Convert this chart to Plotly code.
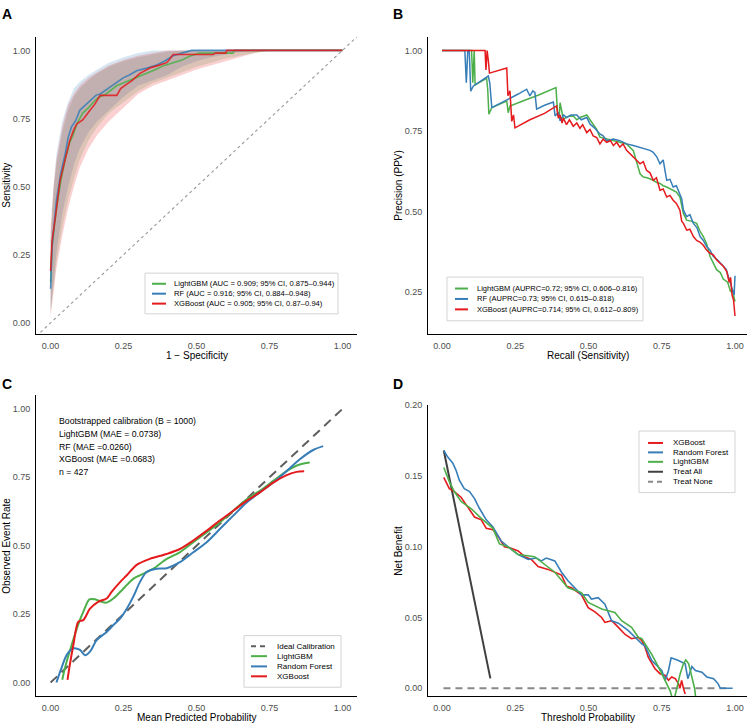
import plotly.graph_objects as go

W, H = 747, 723
def px(x): return x / W
def py(y): return 1 - y / H

RED = "#E41A1C"; BLUE = "#377EB8"; GREEN = "#4DAF4A"
FONT = "Liberation Sans, Arial, Helvetica, sans-serif"
TICKC = "#4D4D4D"

# ---------------- Panel A: ROC ----------------
roc_lgbm_fpr = [0, 0.005, 0.02, 0.035, 0.05, 0.065, 0.077, 0.09, 0.11, 0.13, 0.16, 0.19, 0.226, 0.26, 0.306, 0.33, 0.36, 0.39, 0.42, 0.45, 0.48, 0.51, 0.625, 0.63, 1.0]
roc_lgbm_tpr = [0.15, 0.28, 0.42, 0.52, 0.60, 0.66, 0.69, 0.73, 0.77, 0.79, 0.825, 0.84, 0.87, 0.885, 0.905, 0.915, 0.93, 0.945, 0.955, 0.965, 0.98, 0.99, 0.99, 1.0, 1.0]
roc_rf_fpr = [0, 0.005, 0.02, 0.035, 0.05, 0.06, 0.072, 0.085, 0.1, 0.12, 0.14, 0.155, 0.17, 0.19, 0.204, 0.22, 0.25, 0.27, 0.295, 0.33, 0.36, 0.39, 0.42, 0.45, 0.483, 1.0]
roc_rf_tpr = [0.125, 0.28, 0.45, 0.55, 0.62, 0.68, 0.72, 0.74, 0.78, 0.80, 0.82, 0.835, 0.84, 0.855, 0.865, 0.875, 0.90, 0.91, 0.925, 0.935, 0.945, 0.96, 0.98, 0.99, 1.0, 1.0]
roc_xgb_fpr = [0, 0.005, 0.018, 0.032, 0.05, 0.066, 0.08, 0.09, 0.11, 0.12, 0.135, 0.15, 0.17, 0.227, 0.24, 0.26, 0.28, 0.305, 0.34, 0.37, 0.398, 0.41, 0.42, 0.557, 0.565, 0.6, 0.604, 1.0]
roc_xgb_tpr = [0.19, 0.30, 0.40, 0.52, 0.60, 0.67, 0.71, 0.73, 0.745, 0.76, 0.78, 0.80, 0.835, 0.835, 0.86, 0.875, 0.89, 0.915, 0.935, 0.945, 0.955, 0.97, 0.985, 0.985, 0.99, 0.99, 1.0, 1.0]

band_fpr = [0, 0.01, 0.02, 0.04, 0.06, 0.08, 0.1, 0.13, 0.16, 0.2, 0.25, 0.3, 0.35, 0.4, 0.45, 0.5, 0.55, 0.6, 0.65, 0.7, 0.75]
band_lgbm_lo = [0.04, 0.12, 0.22, 0.35, 0.45, 0.53, 0.60, 0.67, 0.72, 0.77, 0.81, 0.85, 0.88, 0.90, 0.92, 0.94, 0.955, 0.97, 0.98, 0.99, 1.0]
band_lgbm_hi = [0.30, 0.48, 0.58, 0.70, 0.78, 0.83, 0.86, 0.89, 0.915, 0.94, 0.96, 0.975, 0.985, 0.995, 1.0, 1.0, 1.0, 1.0, 1.0, 1.0, 1.0]
band_rf_lo = [0.04, 0.14, 0.26, 0.40, 0.50, 0.58, 0.64, 0.70, 0.74, 0.78, 0.83, 0.87, 0.89, 0.91, 0.94, 0.96, 0.975, 0.985, 0.995, 1.0, 1.0]
band_rf_hi = [0.32, 0.50, 0.62, 0.74, 0.81, 0.86, 0.885, 0.91, 0.93, 0.955, 0.975, 0.99, 1.0, 1.0, 1.0, 1.0, 1.0, 1.0, 1.0, 1.0, 1.0]
band_xgb_lo = [0.02, 0.10, 0.20, 0.32, 0.42, 0.50, 0.57, 0.64, 0.69, 0.74, 0.79, 0.84, 0.87, 0.89, 0.91, 0.93, 0.945, 0.96, 0.975, 0.99, 1.0]
band_xgb_hi = [0.35, 0.50, 0.60, 0.72, 0.80, 0.84, 0.87, 0.90, 0.92, 0.945, 0.965, 0.98, 0.99, 1.0, 1.0, 1.0, 1.0, 1.0, 1.0, 1.0, 1.0]

roc_labels = ["LightGBM (AUC = 0.909; 95% CI, 0.875\u20130.944)",
              "RF (AUC = 0.916; 95% CI, 0.884\u20130.948)",
              "XGBoost (AUC = 0.905; 95% CI, 0.87\u20130.94)"]

# ---------------- Panel B: PR ----------------
pr_lgbm_rec = [0.0, 0.101, 0.105, 0.110, 0.113, 0.152, 0.156, 0.160, 0.17, 0.221, 0.226, 0.232, 0.28, 0.33, 0.389, 0.395, 0.40, 0.403, 0.414, 0.43, 0.448, 0.46, 0.471, 0.494, 0.505, 0.516, 0.528, 0.539, 0.562, 0.585, 0.607, 0.63, 0.653, 0.665, 0.676, 0.687, 0.70, 0.721, 0.733, 0.744, 0.755, 0.767, 0.778, 0.789, 0.80, 0.812, 0.818, 0.824, 0.835, 0.85, 0.869, 0.88, 0.892, 0.903, 0.915, 0.926, 0.937, 0.95, 0.96, 0.975, 0.985, 0.99, 1.0]
pr_lgbm_prec = [1.0, 1.0, 0.90, 1.0, 0.893, 0.914, 0.88, 0.802, 0.823, 0.843, 0.807, 0.828, 0.845, 0.862, 0.885, 0.80, 0.794, 0.838, 0.787, 0.795, 0.797, 0.785, 0.792, 0.80, 0.785, 0.772, 0.755, 0.731, 0.726, 0.72, 0.715, 0.71, 0.689, 0.65, 0.617, 0.607, 0.605, 0.597, 0.59, 0.587, 0.58, 0.576, 0.57, 0.566, 0.56, 0.545, 0.52, 0.494, 0.473, 0.47, 0.463, 0.44, 0.422, 0.40, 0.36, 0.34, 0.319, 0.31, 0.29, 0.28, 0.25, 0.26, 0.22]
pr_rf_rec = [0.0, 0.078, 0.083, 0.088, 0.093, 0.098, 0.107, 0.158, 0.163, 0.170, 0.175, 0.22, 0.26, 0.289, 0.30, 0.31, 0.317, 0.323, 0.35, 0.38, 0.386, 0.397, 0.403, 0.415, 0.425, 0.44, 0.46, 0.475, 0.494, 0.505, 0.52, 0.539, 0.55, 0.562, 0.585, 0.607, 0.63, 0.653, 0.675, 0.698, 0.71, 0.721, 0.733, 0.744, 0.755, 0.761, 0.767, 0.778, 0.789, 0.80, 0.812, 0.818, 0.824, 0.835, 0.846, 0.858, 0.87, 0.881, 0.892, 0.903, 0.915, 0.926, 0.94, 0.96, 0.97, 0.98, 0.99, 0.997, 1.0]
pr_rf_prec = [1.0, 1.0, 0.90, 1.0, 1.0, 0.874, 0.89, 0.921, 0.90, 0.823, 0.825, 0.845, 0.865, 0.880, 0.859, 0.875, 0.87, 0.818, 0.83, 0.84, 0.797, 0.808, 0.782, 0.80, 0.792, 0.80, 0.80, 0.785, 0.792, 0.772, 0.76, 0.741, 0.735, 0.72, 0.725, 0.72, 0.71, 0.705, 0.70, 0.695, 0.69, 0.684, 0.67, 0.648, 0.66, 0.628, 0.597, 0.60, 0.576, 0.58, 0.556, 0.54, 0.504, 0.484, 0.49, 0.463, 0.45, 0.422, 0.41, 0.391, 0.38, 0.36, 0.35, 0.329, 0.32, 0.29, 0.26, 0.24, 0.30]
pr_xgb_rec = [0.0, 0.147, 0.150, 0.154, 0.158, 0.162, 0.221, 0.225, 0.232, 0.238, 0.244, 0.249, 0.26, 0.30, 0.35, 0.391, 0.397, 0.403, 0.41, 0.414, 0.425, 0.435, 0.448, 0.46, 0.471, 0.48, 0.494, 0.505, 0.516, 0.528, 0.539, 0.55, 0.562, 0.575, 0.585, 0.596, 0.607, 0.618, 0.630, 0.641, 0.653, 0.664, 0.676, 0.687, 0.698, 0.71, 0.721, 0.732, 0.744, 0.755, 0.767, 0.778, 0.789, 0.80, 0.812, 0.818, 0.824, 0.835, 0.846, 0.858, 0.869, 0.88, 0.892, 0.903, 0.915, 0.926, 0.937, 0.949, 0.96, 0.972, 0.98, 0.985, 0.99, 0.995, 1.0]
pr_xgb_prec = [1.0, 1.0, 0.94, 1.0, 0.97, 0.93, 0.946, 0.86, 0.875, 0.78, 0.80, 0.76, 0.765, 0.785, 0.805, 0.828, 0.79, 0.80, 0.775, 0.79, 0.77, 0.785, 0.765, 0.775, 0.758, 0.77, 0.745, 0.755, 0.735, 0.73, 0.71, 0.725, 0.715, 0.72, 0.705, 0.715, 0.70, 0.71, 0.69, 0.68, 0.668, 0.66, 0.648, 0.655, 0.628, 0.62, 0.597, 0.605, 0.566, 0.57, 0.545, 0.55, 0.535, 0.525, 0.504, 0.47, 0.463, 0.442, 0.445, 0.422, 0.41, 0.405, 0.395, 0.38, 0.37, 0.365, 0.35, 0.339, 0.33, 0.313, 0.28, 0.295, 0.24, 0.225, 0.175]
pr_labels = ["LightGBM (AUPRC=0.72; 95% CI, 0.606\u20130.816)",
             "RF (AUPRC=0.73; 95% CI, 0.615\u20130.818)",
             "XGBoost (AUPRC=0.714; 95% CI, 0.612\u20130.809)"]

# ---------------- Panel C: calibration ----------------
cal_lgbm_x = [0.04, 0.049, 0.072, 0.098, 0.112, 0.133, 0.152, 0.175, 0.192, 0.215, 0.249, 0.283, 0.306, 0.352, 0.398, 0.443, 0.489, 0.535, 0.580, 0.626, 0.672, 0.717, 0.763, 0.809, 0.854, 0.888]
cal_lgbm_y = [0.01, 0.052, 0.137, 0.222, 0.258, 0.304, 0.304, 0.295, 0.292, 0.307, 0.343, 0.379, 0.392, 0.416, 0.452, 0.476, 0.513, 0.549, 0.585, 0.628, 0.670, 0.701, 0.737, 0.773, 0.797, 0.804]
cal_rf_x = [0.02, 0.035, 0.055, 0.078, 0.101, 0.118, 0.135, 0.158, 0.192, 0.215, 0.238, 0.261, 0.283, 0.306, 0.329, 0.363, 0.398, 0.443, 0.489, 0.535, 0.580, 0.626, 0.672, 0.717, 0.763, 0.809, 0.854, 0.900, 0.934]
cal_rf_y = [0.0, 0.046, 0.100, 0.125, 0.119, 0.100, 0.113, 0.155, 0.185, 0.210, 0.234, 0.270, 0.313, 0.367, 0.404, 0.416, 0.418, 0.440, 0.476, 0.513, 0.561, 0.610, 0.658, 0.695, 0.731, 0.773, 0.816, 0.850, 0.864]
cal_xgb_x = [0.058, 0.064, 0.078, 0.095, 0.112, 0.135, 0.163, 0.192, 0.209, 0.238, 0.261, 0.295, 0.340, 0.398, 0.443, 0.489, 0.535, 0.580, 0.626, 0.672, 0.717, 0.763, 0.809, 0.843, 0.869]
cal_xgb_y = [0.01, 0.052, 0.137, 0.222, 0.228, 0.270, 0.295, 0.307, 0.331, 0.367, 0.392, 0.430, 0.452, 0.470, 0.488, 0.519, 0.555, 0.592, 0.628, 0.664, 0.695, 0.731, 0.758, 0.770, 0.772]
ideal_x = [0, 1]
ideal_y = [0, 1]
cal_text = ["Bootstrapped calibration (B = 1000)", "LightGBM (MAE = 0.0738)",
            "RF (MAE =0.0260)", "XGBoost (MAE =0.0683)", "n = 427"]
cal_labels = ["Ideal Calibration", "LightGBM", "Random Forest", "XGBoost"]

# ---------------- Panel D: decision curves ----------------
dca_xgb_t = [0.006, 0.025, 0.042, 0.065, 0.088, 0.111, 0.134, 0.151, 0.174, 0.196, 0.213, 0.236, 0.26, 0.282, 0.305, 0.328, 0.362, 0.385, 0.408, 0.425, 0.442, 0.476, 0.499, 0.522, 0.545, 0.556, 0.579, 0.602, 0.625, 0.647, 0.670, 0.682, 0.693, 0.704, 0.727, 0.744, 0.762, 0.773, 0.784, 0.796, 0.807, 0.812, 0.818, 0.824, 0.83]
dca_xgb_nb = [0.149, 0.141, 0.139, 0.135, 0.128, 0.121, 0.119, 0.113, 0.112, 0.106, 0.100, 0.099, 0.097, 0.093, 0.091, 0.086, 0.084, 0.082, 0.080, 0.072, 0.071, 0.066, 0.057, 0.054, 0.050, 0.0465, 0.0477, 0.043, 0.038, 0.035, 0.036, 0.0337, 0.029, 0.022, 0.0138, 0.0103, 0.009, 0.0056, 0.008, 0.0068, 0.0033, 0.0, 0.0056, 0.0, -0.004]
dca_rf_t = [0.006, 0.019, 0.037, 0.048, 0.059, 0.076, 0.094, 0.111, 0.128, 0.151, 0.174, 0.202, 0.225, 0.26, 0.294, 0.322, 0.339, 0.356, 0.385, 0.408, 0.430, 0.453, 0.476, 0.499, 0.510, 0.533, 0.556, 0.579, 0.602, 0.636, 0.670, 0.682, 0.693, 0.716, 0.75, 0.762, 0.773, 0.782, 0.807, 0.83, 0.839, 0.853, 0.865, 0.887, 0.904, 0.927, 0.942, 0.950, 0.992]
dca_rf_nb = [0.168, 0.1635, 0.159, 0.154, 0.147, 0.141, 0.139, 0.134, 0.127, 0.119, 0.114, 0.104, 0.100, 0.0945, 0.091, 0.092, 0.090, 0.092, 0.090, 0.082, 0.076, 0.071, 0.066, 0.066, 0.063, 0.064, 0.0594, 0.0477, 0.046, 0.0407, 0.0337, 0.0314, 0.030, 0.0196, 0.0126, 0.0056, 0.0126, 0.0215, 0.0196, 0.0173, 0.0068, 0.0154, 0.0126, 0.0114, 0.008, 0.0068, 0.0033, 0.0, 0.0]
dca_lgbm_t = [0.006, 0.025, 0.042, 0.065, 0.099, 0.134, 0.174, 0.196, 0.225, 0.26, 0.316, 0.350, 0.385, 0.430, 0.476, 0.499, 0.545, 0.590, 0.613, 0.647, 0.670, 0.682, 0.716, 0.739, 0.762, 0.779, 0.79, 0.813, 0.824, 0.832, 0.842, 0.853, 0.862, 0.868]
dca_lgbm_nb = [0.156, 0.146, 0.139, 0.132, 0.127, 0.120, 0.113, 0.102, 0.100, 0.0945, 0.093, 0.0875, 0.082, 0.071, 0.0676, 0.0606, 0.056, 0.0535, 0.0477, 0.043, 0.036, 0.035, 0.024, 0.015, 0.0056, -0.002, -0.01, 0.0103, 0.0173, 0.020, 0.0173, 0.008, 0.0, -0.01]
treat_all_t = [0.006, 0.05, 0.10, 0.165]
treat_all_nb = [0.168, 0.124, 0.074, 0.007]
treat_none_t = [0.005, 0.97]
treat_none_nb = [0.0, 0.0]
dca_labels = ["XGBoost", "Random Forest", "LightGBM", "Treat All", "Treat None"]

fig = go.Figure()

def rgba(hexc, a):
    h = hexc.lstrip("#")
    return "rgba(%d,%d,%d,%.2f)" % (int(h[0:2], 16), int(h[2:4], 16), int(h[4:6], 16), a)

# A: bands
for lo, hi, c in [(band_lgbm_lo, band_lgbm_hi, GREEN), (band_rf_lo, band_rf_hi, BLUE), (band_xgb_lo, band_xgb_hi, RED)]:
    fig.add_trace(go.Scatter(x=band_fpr + band_fpr[::-1], y=hi + lo[::-1], fill="toself",
                             fillcolor=rgba(c, 0.2), line=dict(width=0), mode="lines",
                             xaxis="x", yaxis="y", hoverinfo="skip"))
fig.add_trace(go.Scatter(x=[-0.05, 1.05], y=[-0.05, 1.05], mode="lines",
                         line=dict(color="#999999", width=1.1, dash="3px,3px"), xaxis="x", yaxis="y"))
for xs, ys, c in [(roc_lgbm_fpr, roc_lgbm_tpr, GREEN), (roc_rf_fpr, roc_rf_tpr, BLUE), (roc_xgb_fpr, roc_xgb_tpr, RED)]:
    fig.add_trace(go.Scatter(x=xs, y=ys, mode="lines", line=dict(color=c, width=1.6),
                             opacity=0.85, xaxis="x", yaxis="y"))

# B
for xs, ys, c in [(pr_lgbm_rec, pr_lgbm_prec, GREEN), (pr_rf_rec, pr_rf_prec, BLUE), (pr_xgb_rec, pr_xgb_prec, RED)]:
    fig.add_trace(go.Scatter(x=xs, y=ys, mode="lines", line=dict(color=c, width=1.5),
                             xaxis="x2", yaxis="y2"))

# C
fig.add_trace(go.Scatter(x=ideal_x, y=ideal_y, mode="lines",
                         line=dict(color="#5F5F5F", width=2, dash="9px,6px"), xaxis="x3", yaxis="y3"))
for xs, ys, c in [(cal_lgbm_x, cal_lgbm_y, GREEN), (cal_rf_x, cal_rf_y, BLUE), (cal_xgb_x, cal_xgb_y, RED)]:
    fig.add_trace(go.Scatter(x=xs, y=ys, mode="lines", line=dict(color=c, width=2, shape="spline", smoothing=0.8),
                             xaxis="x3", yaxis="y3"))

# D
fig.add_trace(go.Scatter(x=treat_none_t, y=treat_none_nb, mode="lines",
                         line=dict(color="#888888", width=2, dash="7px,5px"), xaxis="x4", yaxis="y4"))
fig.add_trace(go.Scatter(x=treat_all_t, y=treat_all_nb, mode="lines",
                         line=dict(color="#404040", width=2), xaxis="x4", yaxis="y4"))
for xs, ys, c in [(dca_xgb_t, dca_xgb_nb, RED), (dca_rf_t, dca_rf_nb, BLUE), (dca_lgbm_t, dca_lgbm_nb, GREEN)]:
    fig.add_trace(go.Scatter(x=xs, y=ys, mode="lines", line=dict(color=c, width=1.6),
                             xaxis="x4", yaxis="y4"))

tick01 = [0, 0.25, 0.5, 0.75, 1.0]
tick01_t = ["0.00", "0.25", "0.50", "0.75", "1.00"]

def xax(dom, rng, anchor, tv, tt):
    return dict(domain=[px(dom[0]), px(dom[1])], range=rng, anchor=anchor, tickvals=tv, ticktext=tt,
                showline=True, linecolor="black", linewidth=1, ticks="", showgrid=False, zeroline=False,
                tickfont=dict(family=FONT, size=9, color=TICKC), ticklabelstandoff=3)

def yax(dom, rng, anchor, tv, tt):
    return dict(domain=[py(dom[1]), py(dom[0])], range=rng, anchor=anchor, tickvals=tv, ticktext=tt,
                showline=True, linecolor="black", linewidth=1, ticks="", showgrid=False, zeroline=False,
                tickfont=dict(family=FONT, size=9, color=TICKC), ticklabelstandoff=3)

LX = (36, 357); RX = (428, 747)
TOPY = (32, 331); BOTY = (393, 696); DY = (403, 696)

fig.update_layout(
    width=W, height=H, margin=dict(l=0, r=0, t=0, b=0), showlegend=False,
    plot_bgcolor="white", paper_bgcolor="white", font=dict(family=FONT),
    xaxis=xax(LX, [-0.05, 1.05], "y", tick01, tick01_t),
    yaxis=yax(TOPY, [-0.04, 1.05], "x", tick01, tick01_t),
    xaxis2=xax(RX, [-0.0478, 1.041], "y2", tick01, tick01_t),
    yaxis2=yax(TOPY, [0.12, 1.043], "x2", tick01[1:], tick01_t[1:]),
    xaxis3=xax(LX, [-0.05, 1.05], "y3", tick01, tick01_t),
    yaxis3=yax(BOTY, [-0.05, 1.05], "x3", tick01, tick01_t),
    xaxis4=xax(RX, [-0.0478, 1.041], "y4", tick01, tick01_t),
    yaxis4=yax(DY, [-0.0056, 0.2], "x4", [0, 0.05, 0.1, 0.15, 0.2], ["0.00", "0.05", "0.10", "0.15", "0.20"]),
)

ann = []
shapes = []

def text(x, y, s, size=10, color="black", xanchor="center", angle=0, bold=False):
    ann.append(dict(x=px(x), y=py(y), xref="paper", yref="paper", text=("<b>%s</b>" % s) if bold else s,
                    showarrow=False, xanchor=xanchor, yanchor="middle", textangle=angle,
                    font=dict(family=FONT, size=size, color=color)))

# panel letters
text(7, 9, "A", size=14, bold=True)
text(398, 9, "B", size=14, bold=True)
text(7, 382, "C", size=14, bold=True)
text(398, 382, "D", size=14, bold=True)

# axis titles
text(196.5, 353, "1 \u2212 Specificity")
text(7, 182, "Sensitivity", angle=-90)
text(587.5, 353, "Recall (Sensitivity)")
text(399, 182, "Precision (PPV)", angle=-90)
text(196.5, 717, "Mean Predicted Probability")
text(7, 544.5, "Observed Event Rate", angle=-90)
text(587.5, 717, "Threshold Probability")
text(399, 549.5, "Net Benefit", angle=-90)

# calibration text block
for i, s in enumerate(cal_text):
    text(57, 419.3 + i * 12.7, s, size=8.7, xanchor="left")

def legend(box, lx, tx, ys, entries, size):
    shapes.append(dict(type="rect", xref="paper", yref="paper", x0=px(box[0]), x1=px(box[1]),
                       y0=py(box[3]), y1=py(box[2]), line=dict(color="#D3D3D3", width=1), fillcolor="white",
                       layer="above"))
    for y, (lab, col, dash) in zip(ys, entries):
        shapes.append(dict(type="line", xref="paper", yref="paper", x0=px(lx[0]), x1=px(lx[1]),
                           y0=py(y), y1=py(y), line=dict(color=col, width=2, dash=dash), layer="above"))
        text(tx, y, lab, size=size, xanchor="left")

legend((145, 338, 270, 311), (152, 166), 172, [280.7, 290.7, 300.7],
       [(roc_labels[0], GREEN, "solid"), (roc_labels[1], BLUE, "solid"), (roc_labels[2], RED, "solid")], 7.6)
legend((447, 643, 274, 318), (455, 468), 475, [285.5, 296, 306.5],
       [(pr_labels[0], GREEN, "solid"), (pr_labels[1], BLUE, "solid"), (pr_labels[2], RED, "solid")], 7.5)
legend((244, 341, 635, 687), (251, 267), 275, [645.7, 655.7, 666, 676],
       [(cal_labels[0], "#5F5F5F", "5px,4px"), (cal_labels[1], GREEN, "solid"),
        (cal_labels[2], BLUE, "solid"), (cal_labels[3], RED, "solid")], 8)
legend((639, 735, 429, 491), (648, 663), 671, [441, 450.5, 460, 470, 480],
       [(dca_labels[0], RED, "solid"), (dca_labels[1], BLUE, "solid"), (dca_labels[2], GREEN, "solid"),
        (dca_labels[3], "#404040", "solid"), (dca_labels[4], "#888888", "5px,4px")], 8)

fig.update_layout(annotations=ann, shapes=shapes)
fig.write_html("out.html")
